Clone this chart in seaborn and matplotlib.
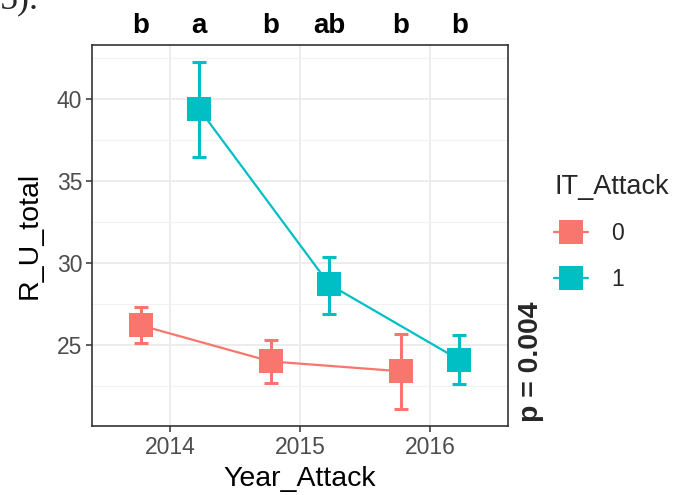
import numpy as np
import pandas as pd
import matplotlib
matplotlib.use("Agg")
import matplotlib.pyplot as plt
from matplotlib.lines import Line2D
from matplotlib.ticker import MultipleLocator
import seaborn as sns

years = [2014, 2015, 2016]
groups = ["0", "1"]
mean_0 = [26.2, 24.0, 23.4]
low_0 = [25.1, 22.7, 21.1]
high_0 = [27.3, 25.3, 25.7]
mean_1 = [39.4, 28.7, 24.1]
low_1 = [36.5, 26.9, 22.6]
high_1 = [42.3, 30.4, 25.6]
letters_0 = ["b", "b", "b"]
letters_1 = ["a", "ab", "b"]
colors = {"0": "#F8766D", "1": "#00BFC4"}

sns.set_theme(style="white")
plt.rcParams["font.family"] = ["Liberation Sans", "DejaVu Sans"]

dodge = 0.225
rows = []
for g, m, lo, hi, lt, off in [("0", mean_0, low_0, high_0, letters_0, -dodge),
                               ("1", mean_1, low_1, high_1, letters_1, dodge)]:
    for y, mv, l, h, t in zip(years, m, lo, hi, lt):
        rows.append(dict(Year_Attack=y, xpos=y + off, R_U_total=mv, low=l, high=h,
                         IT_Attack=g, letter=t))
df = pd.DataFrame(rows)

fig = plt.figure(figsize=(6.82, 4.95), dpi=100)
ax = fig.add_axes([92 / 682, 1 - 426 / 495, (508 - 92) / 682, (426 - 45) / 495])

sns.lineplot(data=df, x="xpos", y="R_U_total", hue="IT_Attack", palette=colors,
             marker="s", markersize=17, markeredgewidth=0, linewidth=1.6,
             ax=ax, legend=False, zorder=3)
for g in groups:
    sub = df[df.IT_Attack == g]
    ax.errorbar(sub.xpos, sub.R_U_total,
                yerr=[sub.R_U_total - sub.low, sub.high - sub.R_U_total],
                fmt="none", ecolor=colors[g], elinewidth=2.2, capsize=4.8,
                capthick=2.2, zorder=2)

ax.set_xlim(2013.4, 2016.6)
ax.set_ylim(20.06, 43.31)
ax.set_xticks(years)
ax.yaxis.set_major_locator(MultipleLocator(5))
ax.yaxis.set_minor_locator(MultipleLocator(2.5))
ax.set_yticks([25, 30, 35, 40])
ax.grid(True, which="major", color="#EBEBEB", linewidth=1.3)
ax.grid(True, which="minor", axis="y", color="#F2F2F2", linewidth=0.8)
ax.set_axisbelow(True)
for s in ax.spines.values():
    s.set_color("#333333")
    s.set_linewidth(1.2)
ax.tick_params(axis="both", which="major", length=4, width=1.1, color="#333333",
               labelsize=16.5, labelcolor="#4D4D4D", pad=3, left=True, bottom=True)
ax.tick_params(axis="y", which="minor", length=0)
ax.set_xlabel("Year_Attack", fontsize=20.5, color="black", labelpad=5)
ax.set_ylabel("R_U_total", fontsize=20.5, color="black", labelpad=10)

# significance letters above panel
for _, r in df.iterrows():
    ax.annotate(r.letter, xy=(r.xpos, 1.0), xycoords=("data", "axes fraction"),
                xytext=(0, 4), textcoords="offset points", ha="center", va="bottom",
                fontsize=20, fontweight="bold", color="black", annotation_clip=False)

fig.text(531 / 682, 1 - 362 / 495, "p = 0.004", rotation=90, ha="center", va="center",
         fontsize=20.5, fontweight="bold")

handles = [Line2D([0], [0], color=colors[g], linewidth=1.6, marker="s", markersize=17,
                  markeredgewidth=0) for g in groups]
leg = fig.legend(handles, groups, title="IT_Attack", loc="upper left",
                 bbox_to_anchor=(538 / 682, 1 - 158 / 495), frameon=False,
                 fontsize=16.5, title_fontsize=19.5, handlelength=1.5,
                 handletextpad=1.0, labelspacing=1.0, alignment="left",
                 borderpad=0.2)
leg._legend_box.sep = 16

fig.text(0.0, 1.0, "5).", ha="left", va="center", fontsize=26,
         family=["Liberation Serif", "DejaVu Serif"])

fig.savefig("out.png", dpi=100)
